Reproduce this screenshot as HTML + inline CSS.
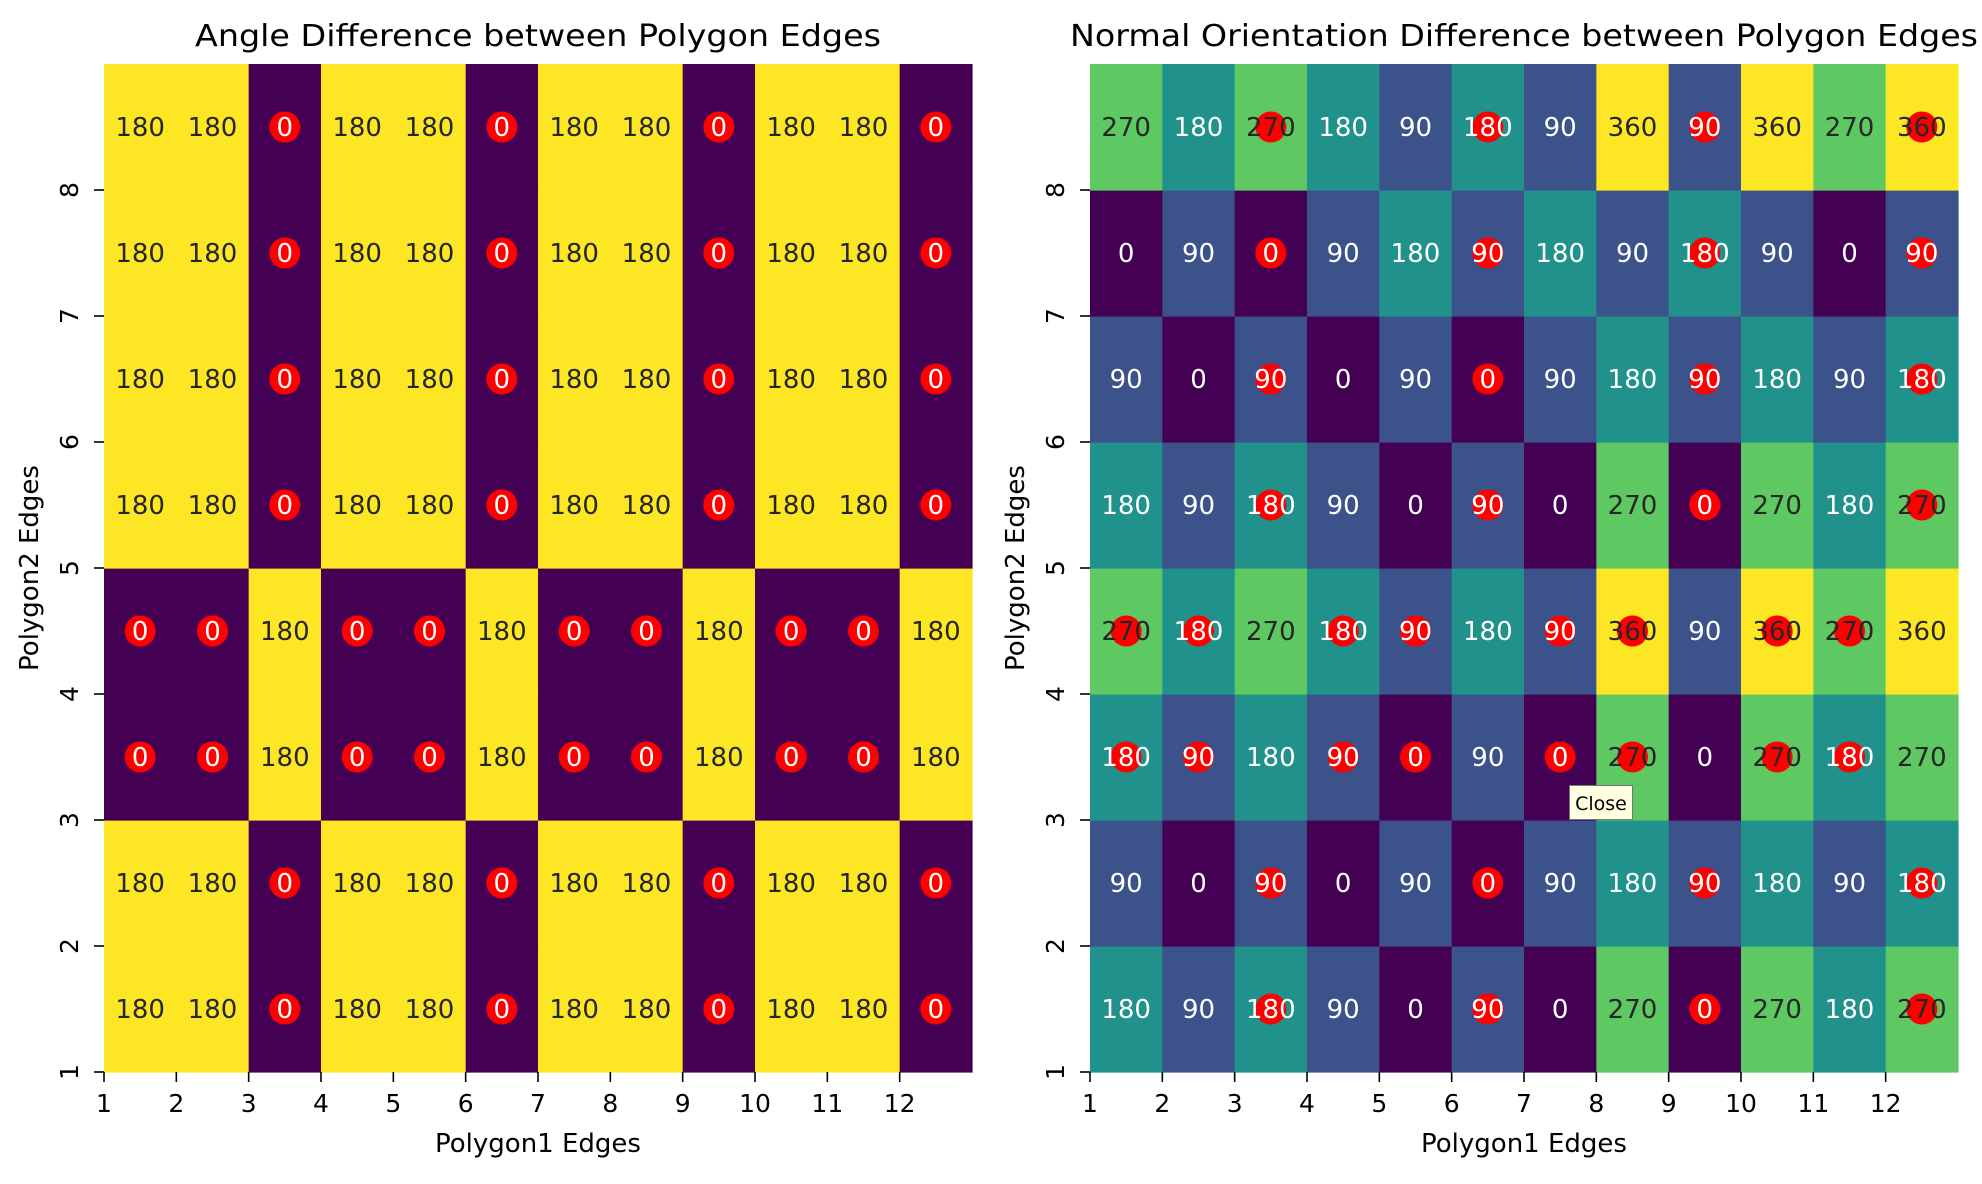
<!DOCTYPE html>
<html><head><meta charset="utf-8"><style>
html,body{margin:0;padding:0;background:#fff;}
svg{display:block;font-family:"DejaVu Sans","Liberation Sans",sans-serif;}
</style></head><body>
<svg id="fig" width="1982" height="1184" viewBox="0 0 1982 1184" xmlns="http://www.w3.org/2000/svg"></svg>
<script>
const xCategories = [1,2,3,4,5,6,7,8,9,10,11,12];
const yCategories = [1,2,3,4,5,6,7,8];
// rows listed bottom (edge 1) to top (edge 8)
const angleValues = [
 [180,180,0,180,180,0,180,180,0,180,180,0],
 [180,180,0,180,180,0,180,180,0,180,180,0],
 [0,0,180,0,0,180,0,0,180,0,0,180],
 [0,0,180,0,0,180,0,0,180,0,0,180],
 [180,180,0,180,180,0,180,180,0,180,180,0],
 [180,180,0,180,180,0,180,180,0,180,180,0],
 [180,180,0,180,180,0,180,180,0,180,180,0],
 [180,180,0,180,180,0,180,180,0,180,180,0]
];
const normalValues = [
 [180,90,180,90,0,90,0,270,0,270,180,270],
 [90,0,90,0,90,0,90,180,90,180,90,180],
 [180,90,180,90,0,90,0,270,0,270,180,270],
 [270,180,270,180,90,180,90,360,90,360,270,360],
 [180,90,180,90,0,90,0,270,0,270,180,270],
 [90,0,90,0,90,0,90,180,90,180,90,180],
 [0,90,0,90,180,90,180,90,180,90,0,90],
 [270,180,270,180,90,180,90,360,90,360,270,360]
];
const xTickLabels = ["1","2","3","4","5","6","7","8","9","10","11","12"];
const yTickLabels = ["1","2","3","4","5","6","7","8"];

const NS = "http://www.w3.org/2000/svg";
const svg = document.getElementById('fig');
function mk(tag, attrs, parent){const e=document.createElementNS(NS,tag);for(const k in attrs)e.setAttribute(k,attrs[k]);(parent||svg).appendChild(e);return e;}
const stops=[[68,1,84],[59,82,139],[33,145,140],[94,201,98],[253,231,37]];
function viridis(v,vmin,vmax){let t=(v-vmin)/(vmax-vmin||1);t=Math.max(0,Math.min(1,t))*4;const i=Math.min(3,Math.floor(t)),f=t-i;const a=stops[i],b=stops[i+1];return [0,1,2].map(k=>Math.round(a[k]+(b[k]-a[k])*f));}

function heatmap(x0, values, mask, title, titleLen, prefix){
  const top=64,bottom=1072,w=868,h=bottom-top;
  const nC=xCategories.length,nR=yCategories.length;
  const cw=w/nC,rh=h/nR;
  const xs=i=>x0+i*cw, ys=j=>bottom-j*rh;
  let vmin=Infinity,vmax=-Infinity;values.forEach(r=>r.forEach(v=>{vmin=Math.min(vmin,v);vmax=Math.max(vmax,v);}));
  const g=mk('g',{});
  
  
  for(let j=0;j<nR;j++)for(let i=0;i<nC;i++){
    const v=values[j][i],c=viridis(v,vmin,vmax);
    const r=mk('rect',{x:xs(i),y:ys(j+1),width:cw+0.6,height:rh+0.6,fill:`rgb(${c})`},g);
    
    
  }
  for(let j=0;j<nR;j++)for(let i=0;i<nC;i++){
    const v=values[j][i],c=viridis(v,vmin,vmax);
    const lum=(0.299*c[0]+0.587*c[1]+0.114*c[2])/255;
    const cx=xs(i+0.5),cy=ys(j+0.5);
    if(mask[j][i]===0){
      const m=mk('circle',{cx:cx,cy:cy,r:15.5,fill:'#ff0000'},g);
      
      
    }
    const t=mk('text',{x:cx,y:cy+9,'text-anchor':'middle','font-size':26,fill:lum>0.5?'#262626':'#ffffff'},g);
    t.textContent=v;
    
    
  }
  for(let i=0;i<nC;i++){
    mk('line',{x1:xs(i),x2:xs(i),y1:bottom,y2:bottom+10,stroke:'#000','stroke-width':1.6},g);
    const t=mk('text',{x:xs(i),y:bottom+40,'text-anchor':'middle','font-size':25,fill:'#000'},g);
    t.textContent=xTickLabels[i];
    
    
  }
  for(let j=0;j<nR;j++){
    mk('line',{x1:x0-10,x2:x0,y1:ys(j),y2:ys(j),stroke:'#000','stroke-width':1.6},g);
    const tx=x0-26,ty=ys(j);
    const t=mk('text',{x:tx,y:ty,'text-anchor':'middle','font-size':25,fill:'#000',transform:`rotate(-90 ${tx} ${ty})`},g);
    t.textContent=yTickLabels[j];
    
    
  }
  const tt=mk('text',{x:x0+w/2,y:46,'text-anchor':'middle','font-size':30,fill:'#000',textLength:titleLen,lengthAdjust:'spacingAndGlyphs'},g);
  tt.textContent=title;
  
  
  const xl=mk('text',{x:x0+w/2,y:1152,'text-anchor':'middle','font-size':26,fill:'#000'},g);
  xl.textContent='Polygon1 Edges';
  
  
  const ax=x0-66,ay=568;
  const yl=mk('text',{x:ax,y:ay,'text-anchor':'middle','font-size':26,fill:'#000',transform:`rotate(-90 ${ax} ${ay})`},g);
  yl.textContent='Polygon2 Edges';
  
  
}
heatmap(104, angleValues, angleValues, 'Angle Difference between Polygon Edges', 686, 'angle');
heatmap(1090, normalValues, angleValues, 'Normal Orientation Difference between Polygon Edges', 908, 'normal');

const tip=mk('g',{});


mk('rect',{x:1569.5,y:785.5,width:63,height:34,fill:'#ffffe1',stroke:'#767676','stroke-width':1},tip);
const tt=mk('text',{x:1601,y:810,'text-anchor':'middle','font-size':19,fill:'#000'},tip);
tt.textContent='Close';
</script>
</body></html>
